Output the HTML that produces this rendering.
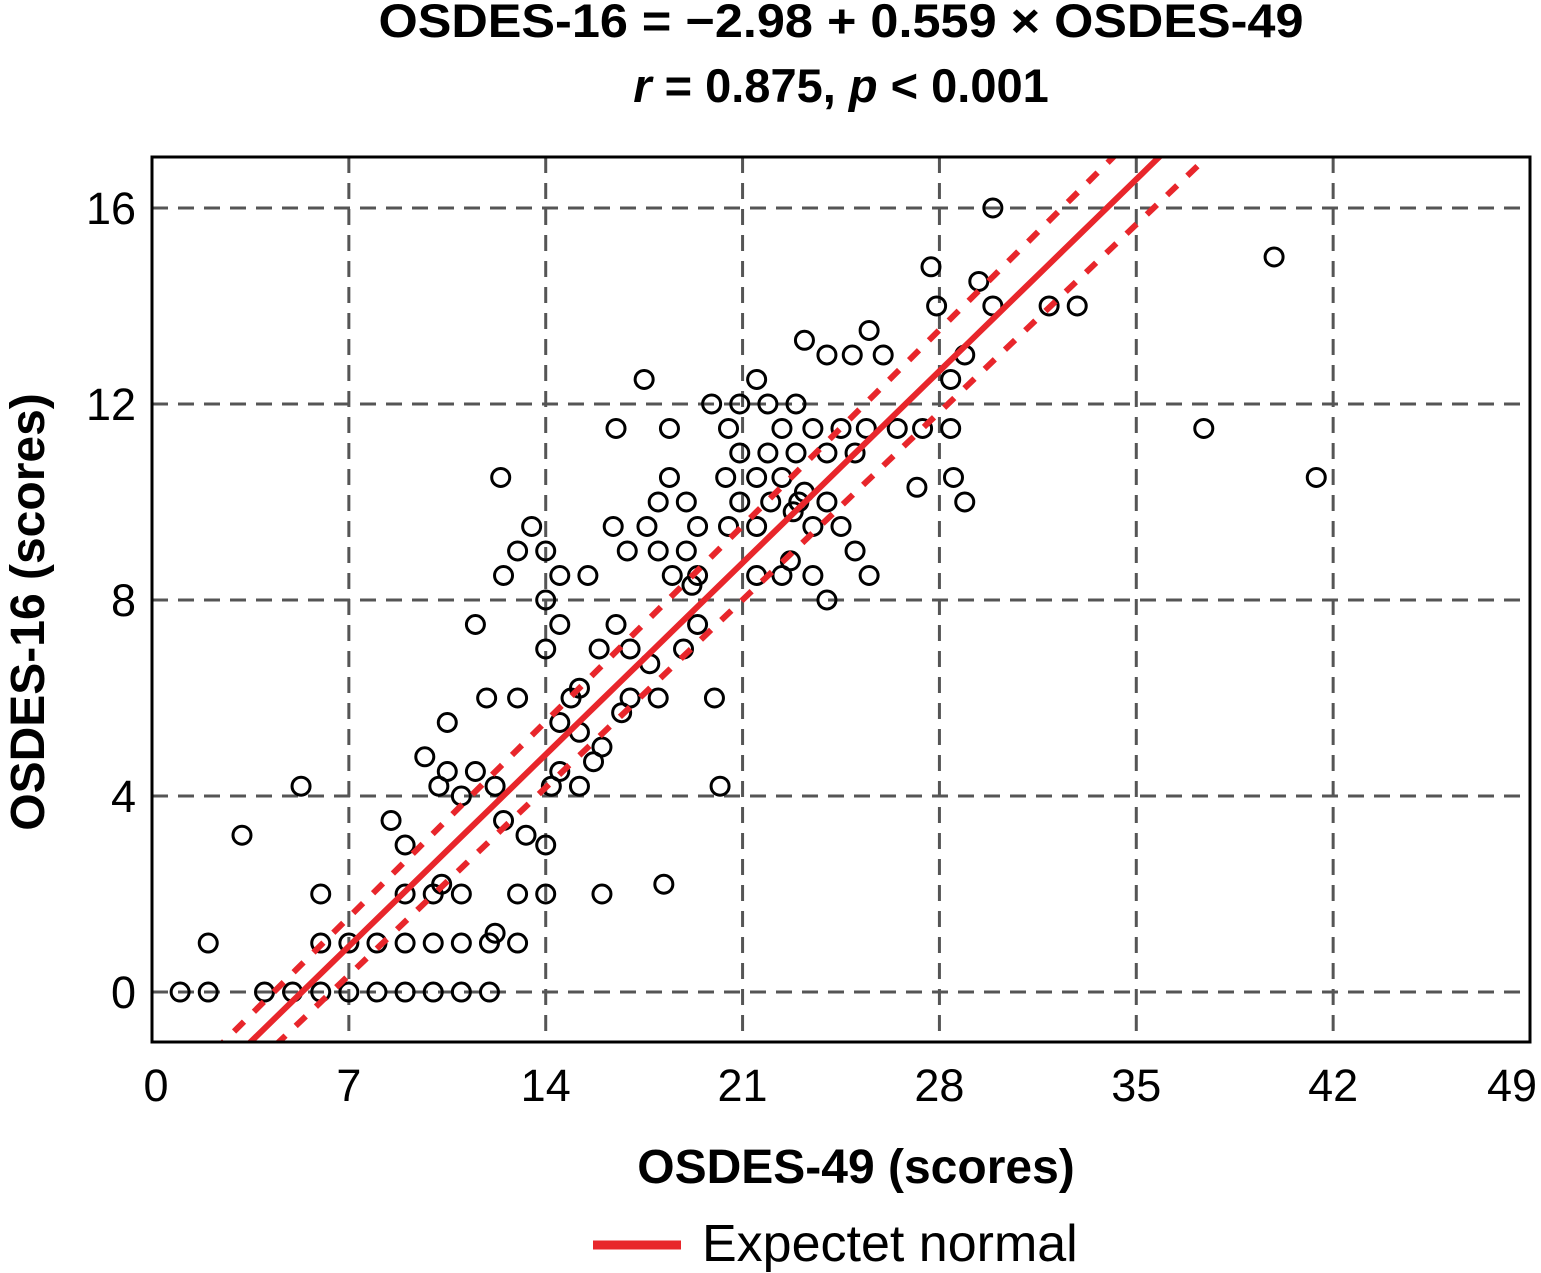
<!DOCTYPE html>
<html><head><meta charset="utf-8"><style>
body{margin:0;background:#fff;}
svg{display:block;font-family:"Liberation Sans","DejaVu Sans",sans-serif;}
</style></head><body>
<svg id="chart" width="1541" height="1273" viewBox="0 0 1541 1273">
<text x="841" y="37" text-anchor="middle" font-size="47" font-weight="bold" textLength="925" lengthAdjust="spacingAndGlyphs">OSDES-16 = −2.98 + 0.559 × OSDES-49</text>
<text x="841" y="102" text-anchor="middle" font-size="47" font-weight="bold"><tspan font-style="italic">r</tspan> = 0.875, <tspan font-style="italic">p</tspan> &lt; 0.001</text>
<g id="grid"></g><g id="marks"></g>
<rect x="152" y="157" width="1378" height="885" fill="none" stroke="#000" stroke-width="3"/>
<g id="ticks"></g>
<text x="856" y="1183" text-anchor="middle" font-size="48" font-weight="bold">OSDES-49 (scores)</text>
<text transform="translate(44,612) rotate(-90)" text-anchor="middle" font-size="48" font-weight="bold">OSDES-16 (scores)</text>
<g>
<line x1="593" y1="1245" x2="681" y2="1245" stroke="#e8262b" stroke-width="9"/>
<text x="702" y="1261" font-size="52">Expectet normal</text>
</g>
</svg>
<script>
const xTicks=[0,7,14,21,28,35,42,49];
const yTicks=[0,4,8,12,16];
const intercept=-2.98, slope=0.559;
const ciLow=0.55, ciGrow=0.0118, ciRef=3.5;
const xs=[1,2,2,3.2,4,5,5.3,6,6,6,7,7,8,8,8.5,9,9,9,9,9.7,10,10,10,10.2,10.3,10.5,10.5,11,11,11,11,11.5,11.5,11.9,12,12,12.2,12.2,12.4,12.5,12.5,13,13,13,13,13.3,13.5,14,14,14,14,14,14.2,14.5,14.5,14.5,14.5,14.9,15.2,15.2,15.2,15.5,15.7,16,16,15.9,16.4,16.5,16.5,16.7,16.9,17,17,17.5,17.6,17.7,18,18,18,18.2,18.4,18.4,18.5,18.9,19,19,19.2,19.4,19.4,19.4,19.9,20,20.2,20.4,20.5,20.5,20.9,20.9,20.9,21.5,21.5,21.5,21.5,21.9,21.9,22,22.4,22.4,22.4,22.7,22.8,22.9,22.9,23,23.2,23.2,23.5,23.5,23.5,24,24,24,24,24.5,24.5,24.9,25,25,25.4,25.5,25.5,26,26.5,27.2,27.4,27.7,27.9,28.4,28.4,28.5,28.9,28.9,29.4,29.9,29.9,31.9,32.9,37.4,39.9,41.4];
const ys=[0,0,1,3.2,0,0,4.2,0,1,2,0,1,0,1,3.5,3,0,1,2,4.8,0,1,2,4.2,2.2,5.5,4.5,0,1,2,4,4.5,7.5,6,0,1,1.2,4.2,10.5,8.5,3.5,1,2,6,9,3.2,9.5,9,8,7,3,2,4.2,5.5,8.5,7.5,4.5,6,6.2,4.2,5.3,8.5,4.7,5,2,7,9.5,11.5,7.5,5.7,9,6,7,12.5,9.5,6.7,9,10,6,2.2,10.5,11.5,8.5,7,10,9,8.3,9.5,8.5,7.5,12,6,4.2,10.5,9.5,11.5,12,11,10,12.5,9.5,10.5,8.5,12,11,10,11.5,10.5,8.5,8.8,9.8,12,11,10,10.2,13.3,11.5,9.5,8.5,13,11,10,8,11.5,9.5,13,11,9,11.5,8.5,13.5,13,11.5,10.3,11.5,14.8,14,12.5,11.5,10.5,13,10,14.5,16,14,14,14,11.5,15,10.5];
const X0=152,X1=1530,Y0=1042,Y1=157,XMIN=0,XMAX=49,YMIN=-1.02,YMAX=17.04;
const sx=v=>X0+(v-XMIN)/(XMAX-XMIN)*(X1-X0);
const sy=v=>Y0-(v-YMIN)/(YMAX-YMIN)*(Y0-Y1);
const NS="http://www.w3.org/2000/svg";
function mk(t,p,parent){const e=document.createElementNS(NS,t);for(const k in p)e.setAttribute(k,p[k]);parent.appendChild(e);return e;}
const grid=document.getElementById('grid'),marks=document.getElementById('marks'),ticks=document.getElementById('ticks');
xTicks.forEach((v,i)=>{
 if(v>0&&v<49){const l=mk('line',{x1:sx(v),x2:sx(v),y1:Y1,y2:Y0,stroke:'#555','stroke-width':3,'stroke-dasharray':'16 10'},grid);
 
 }
 let tx=sx(v);if(i===0)tx+=4;if(i===xTicks.length-1)tx-=18;
 const t=mk('text',{x:tx,y:1101,'text-anchor':'middle','font-size':45},ticks);t.textContent=v;
 
 
});
yTicks.forEach(v=>{
 const l=mk('line',{x1:X0,x2:X1,y1:sy(v),y2:sy(v),stroke:'#555','stroke-width':3,'stroke-dasharray':'16 10'},grid);
 
 
 const t=mk('text',{x:136,y:sy(v)+16,'text-anchor':'end','font-size':45},ticks);t.textContent=v;
 
 
});
xs.forEach((x,i)=>{
 const c=mk('circle',{cx:sx(x),cy:sy(ys[i]),r:9,fill:'none',stroke:'#000','stroke-width':3},marks);
 
 
});
const clip=mk('clipPath',{id:'pc'},document.getElementById('chart'));
mk('rect',{x:X0,y:Y1,width:X1-X0,height:Y0-Y1},clip);
const lx0=(YMIN-intercept)/slope-2, lx1=(YMAX-intercept)/slope+2;
function linePath(off){let d='';for(let i=0;i<=60;i++){const x=lx0+(lx1-lx0)*i/60;const h=off*(ciLow+ciGrow*(x-ciRef));d+=(i?'L':'M')+sx(x)+','+sy(intercept+slope*x+h);}return d;}
const reg=mk('path',{d:linePath(0),fill:'none',stroke:'#e8262b','stroke-width':6,'clip-path':'url(#pc)'},marks);


[-1,1].forEach(o=>{
 const p=mk('path',{d:linePath(o),fill:'none',stroke:'#e8262b','stroke-width':6,'stroke-dasharray':'14 14','clip-path':'url(#pc)'},marks);
 
 
});
</script>
</body></html>
